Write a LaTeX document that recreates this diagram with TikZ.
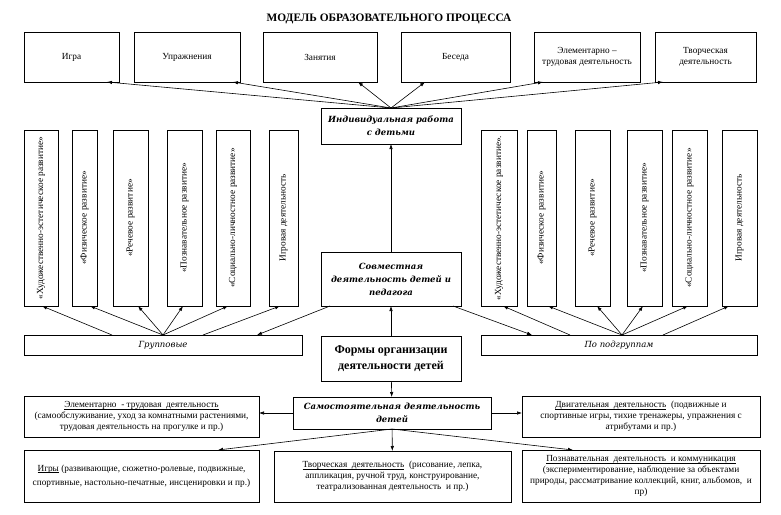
\documentclass[tikz,border=0pt]{standalone}
\usepackage{fontspec}
\setmainfont{Liberation Serif}
\newfontfamily\wideserif{DejaVu Serif}
\usepackage{graphicx}
\usetikzlibrary{arrows.meta}
\newcommand{\ulabel}[1]{\setbox0\hbox{#1}\rlap{\rule[-1.6pt]{\wd0}{0.6pt}}\box0\relax}

\begin{document}
\begin{tikzpicture}
[   x=1pt, y=-1pt,
    font = \fontsize{9.3}{11}\selectfont,
    inner sep=1pt,
    outer sep=0pt,
    box/.style={draw, line width=0.8pt, align=center},
    col/.style={box, minimum height=176pt},
    arr/.style={-{Latex[length=5pt,width=3.5pt]}, line width=0.6pt},
    ital/.style={font=\wideserif\itshape\fontsize{8.5}{11}\selectfont},
    bital/.style={font=\wideserif\bfseries\itshape\fontsize{8.5}{13}\selectfont}
]
\useasboundingbox (0,0) rectangle (781,514);

\node[font=\bfseries\fontsize{11.4}{13}\selectfont] (title) at (389,19) {МОДЕЛЬ ОБРАЗОВАТЕЛЬНОГО ПРОЦЕССА};

% upper row
\node[box, minimum width=95pt, minimum height=50pt] (igra) at (71.5,57) {Игра};
\node[box, minimum width=106pt, minimum height=50pt] (upr) at (187,57) {Упражнения};
\node[box, minimum width=114pt, minimum height=50pt] (zan) at (320,57) {Занятия};
\node[box, minimum width=109pt, minimum height=50pt] (bes) at (455.5,57) {Беседа};
\node[box, minimum width=106pt, minimum height=50pt] (elem) at (587,57) {Элементарно –\\трудовая деятельность};
\node[box, minimum width=101pt, minimum height=50pt] (tvor) at (705.5,57) {Творческая\\деятельность};

\node[box, bital, minimum width=140pt, minimum height=36pt] (ind) at (391,126) {Индивидуальная работа\\с детьми};
\node[box, bital, minimum width=140pt, minimum height=54pt] (sovm) at (391,279) {Совместная\\деятельность детей и\\педагога};
\node[box, font=\bfseries\fontsize{12}{16}\selectfont, minimum width=140pt, minimum height=45pt] (form) at (391,358.5) {Формы организации\\деятельности детей};
\node[box, bital, minimum width=198pt, minimum height=32pt] (samo) at (392,413) {Самостоятельная деятельность\\детей};

\node[box, ital, minimum width=278pt, minimum height=20pt] (grp) at (163,345) {Групповые};
\node[box, ital, minimum width=276pt, minimum height=20pt] (pgr) at (619,345) {По подгруппам};

% columns
\foreach \i/\cx/\w/\txt in {1/41/34/{«Художественно-эстетическое развитие»}, 2/84.5/25/{«Физическое развитие»},
    3/130.5/35/{«Речевое развитие»}, 4/184.5/35/{«Познавательное развитие»},
    5/233/34/{«Социально-личностное развитие»}, 6/283.5/29/{Игровая деятельность}}
  \node[col, minimum width=\w pt] (lc\i) at (\cx,218) {\rotatebox{90}{\txt}};
\foreach \i/\cx/\w/\txt in {1/499/36/{«Художественно-эстетическое развитие».}, 2/541.5/29/{«Физическое развитие»},
    3/592.5/35/{«Речевое развитие»}, 4/644.5/35/{«Познавательное развитие»},
    5/689.5/35/{«Социально-личностное развитие»}, 6/739.5/35/{Игровая деятельность}}
  \node[col, minimum width=\w pt] (rc\i) at (\cx,218) {\rotatebox{90}{\txt}};

% lower boxes
\node[box, minimum width=235pt, minimum height=41pt] (elt) at (141.5,416.5)
  {\ulabel{Элементарно \ - трудовая \ деятельность}\\(самообслуживание, уход за комнатными растениями,\\трудовая деятельность на прогулке и пр.)};
\node[box, minimum width=238pt, minimum height=41pt] (dvig) at (641,416.5)
  {\ulabel{Двигательная \ деятельность} \ (подвижные и\\спортивные игры, тихие тренажеры, упражнения с\\атрибутами и пр.)};
\node[box, minimum width=235pt, minimum height=52pt] (igry) at (141.5,476)
  {\ulabel{Игры} (развивающие, сюжетно-ролевые, подвижные,\\[3pt]спортивные, настольно-печатные, инсценировки и пр.)};
\node[box, minimum width=237pt, minimum height=51pt] (tvd) at (392.5,476.5)
  {\ulabel{Творческая \ деятельность} \ (рисование, лепка,\\аппликация, ручной труд, конструирование,\\театрализованная деятельность \ и пр.)};
\node[box, minimum width=238pt, minimum height=52pt] (pozn) at (641,476)
  {\ulabel{Познавательная \ деятельность \ и коммуникация}\\(экспериментирование, наблюдение за объектами\\природы, рассматривание коллекций, книг, альбомов, \ и\\пр)};

% arrows
\draw[arr] (ind.north) -- ([xshift=35.5pt]igra.south);
\draw[arr] (ind.north) -- ([xshift=46pt]upr.south);
\draw[arr] (ind.north) -- ([xshift=38pt]zan.south);
\draw[arr] (ind.north) -- ([xshift=-30.5pt]bes.south);
\draw[arr] (ind.north) -- ([xshift=-44pt]elem.south);
\draw[arr] (ind.north) -- ([xshift=-42.5pt]tvor.south);

\foreach \i/\s/\e in {1/-51/1, 2/0/5.5, 3/0/7.5, 4/0/-1.5, 5/0/-5, 6/40/-3.5}
  \draw[arr] ([xshift=\s pt]grp.north) -- ([xshift=\e pt]lc\i.south);
\foreach \i/\s/\e in {1/-49/4, 2/3/6.5, 3/3/4.5, 4/3/-1.5, 5/3/-1.5, 6/44/-10.5}
  \draw[arr] ([xshift=\s pt]pgr.north) -- ([xshift=\e pt]rc\i.south);

\draw[arr] (sovm) -- (ind);
\draw[arr] ([xshift=-61pt]sovm.south) -- ([xshift=94pt]grp.north);
\draw[arr] ([xshift=62pt]sovm.south) -- ([xshift=-87pt]pgr.north);
\draw[arr] (form) -- (sovm);
\draw[arr] (form) -- (samo);
\draw[arr] (samo.west) -- (samo.west -| elt.east);
\draw[arr] (samo.east) -- (samo.east -| dvig.west);
\draw[arr] (samo) -- (tvd);
\draw[arr] (samo.south) -- ([xshift=76.5pt]igry.north);
\draw[arr] (samo.south) -- ([xshift=-68pt]pozn.north);
\end{tikzpicture}
\end{document}
